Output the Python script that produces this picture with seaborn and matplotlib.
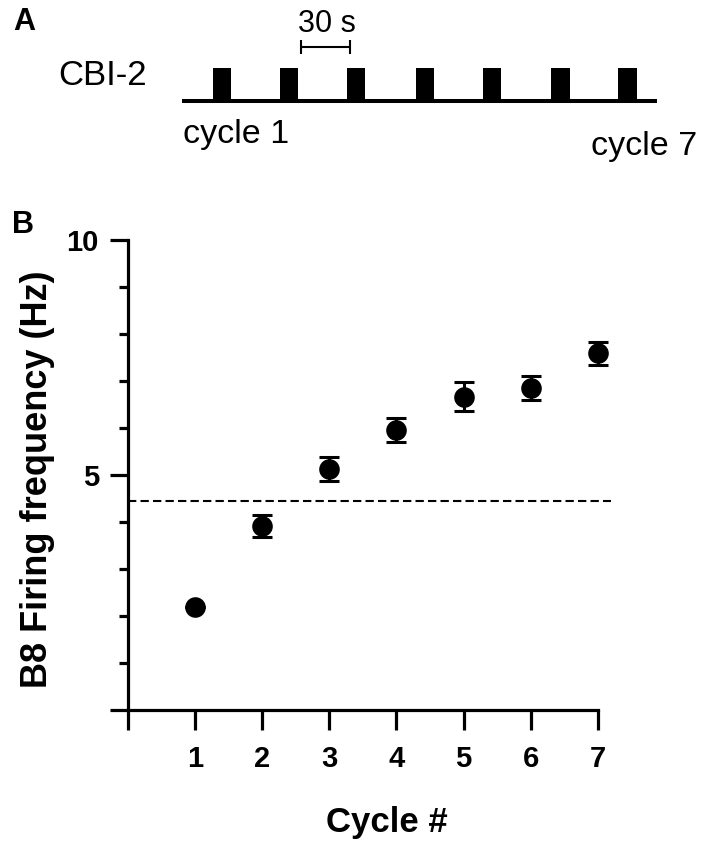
import numpy as np
import pandas as pd
import matplotlib
matplotlib.use("Agg")
import matplotlib.pyplot as plt
import seaborn as sns

# ---------------- data ----------------
cycles = [1, 2, 3, 4, 5, 6, 7]
freq_mean = [2.19, 3.91, 5.13, 5.96, 6.67, 6.85, 7.59]
freq_sem = [0.0, 0.23, 0.25, 0.26, 0.30, 0.25, 0.24]
threshold = 4.44
x_tick_labels = ["", "1", "2", "3", "4", "5", "6", "7"]
y_tick_labels = ["", "5", "10"]

# panel A protocol (seconds)
pulse_onsets = [0, 41, 82, 124, 165, 207, 248]
pulse_duration = 11.3
baseline_span = [-19, 272]
scalebar_span = [53.9, 83.9]   # 30 s

sns.set_theme(style="ticks")
plt.rcParams["font.family"] = ["Liberation Sans", "DejaVu Sans"]
plt.rcParams["text.color"] = "black"
plt.rcParams["axes.labelcolor"] = "black"
plt.rcParams["xtick.color"] = "black"
plt.rcParams["ytick.color"] = "black"

W, H = 704, 850
fig = plt.figure(figsize=(W / 100, H / 100), dpi=100)


def fx(px):
    return px / W


def fy(py):
    return 1 - py / H


# ---------------- panel A ----------------
axA = fig.add_axes([0, fy(180), 1, 180 / H])
px_per_s = 49 / 30.0
axA.set_xlim(-213 / px_per_s, (W - 213) / px_per_s)
axA.set_ylim(-(180 - 101) / 33.0, 101 / 33.0)
axA.axis("off")
axA.plot(baseline_span, [0, 0], color="black", lw=2.9, solid_capstyle="butt")
axA.bar(pulse_onsets, [1] * len(pulse_onsets), width=pulse_duration,
        align="edge", bottom=0, color="black", edgecolor="none")
sb_y = (101 - 47) / 33.0
axA.errorbar([np.mean(scalebar_span)], [sb_y],
             xerr=[(scalebar_span[1] - scalebar_span[0]) / 2],
             fmt="none", ecolor="black", elinewidth=1.5, capsize=4.7, capthick=1.5)

fig.text(fx(13), fy(30), "A", fontsize=22, fontweight="bold", ha="left", va="baseline")
fig.text(fx(58), fy(85), "CBI-2", fontsize=25, ha="left", va="baseline")
fig.text(fx(327), fy(32), "30 s", fontsize=22, ha="center", va="baseline")
fig.text(fx(183), fy(143), "cycle 1", fontsize=24.5, ha="left", va="baseline")
fig.text(fx(697), fy(155), "cycle 7", fontsize=24.5, ha="right", va="baseline")

# ---------------- panel B ----------------
fig.text(fx(12), fy(233), "B", fontsize=22, fontweight="bold", ha="left", va="baseline")

ax = fig.add_axes([fx(128), fy(710), (618 - 128) / W, 470 / H])
df = pd.DataFrame({"cycle": cycles, "freq": freq_mean, "sem": freq_sem})

ax.hlines(threshold, 0, 7.2, colors="black", linestyles=(0, (4, 2)), lw=1.5, zorder=1)
ax.errorbar(df["cycle"], df["freq"], yerr=df["sem"], fmt="none", ecolor="black",
            elinewidth=2.2, capsize=7.2, capthick=2.2, zorder=2)
sns.scatterplot(data=df, x="cycle", y="freq", s=220, color="black",
                linewidth=0, zorder=3, ax=ax, legend=False)

ax.set_xlim(0, 7.3)
ax.set_ylim(0, 10)
sns.despine(ax=ax)
ax.spines["left"].set_bounds(0, 10)
ax.spines["bottom"].set_bounds(0, 7)
for s in ["left", "bottom"]:
    ax.spines[s].set_linewidth(2.3)
    ax.spines[s].set_color("black")

ax.set_xticks(range(0, 8))
ax.set_xticklabels(x_tick_labels)
ax.set_yticks([0, 5, 10])
ax.set_yticklabels(y_tick_labels)
ax.set_yticks(range(1, 10), minor=True)
ax.tick_params(axis="x", which="major", length=14.4, width=2.3, color="black",
               pad=11, labelsize=21)
ax.tick_params(axis="y", which="major", length=13, width=2.3, color="black",
               pad=8, labelsize=21)
ax.tick_params(axis="y", which="minor", length=6.5, width=2.3, color="black", left=True)
for lab in ax.get_xticklabels() + ax.get_yticklabels():
    lab.set_fontweight("bold")

ax.set_xlabel("Cycle #", fontsize=25, fontweight="bold")
ax.set_ylabel("B8 Firing frequency (Hz)", fontsize=26, fontweight="bold")
ax.xaxis.set_label_coords((387 - 128) / 490, (710 - 806) / 470)
ax.yaxis.set_label_coords((55 - 128) / 490, 0.49)

fig.savefig("out.png", dpi=100, facecolor="white")
